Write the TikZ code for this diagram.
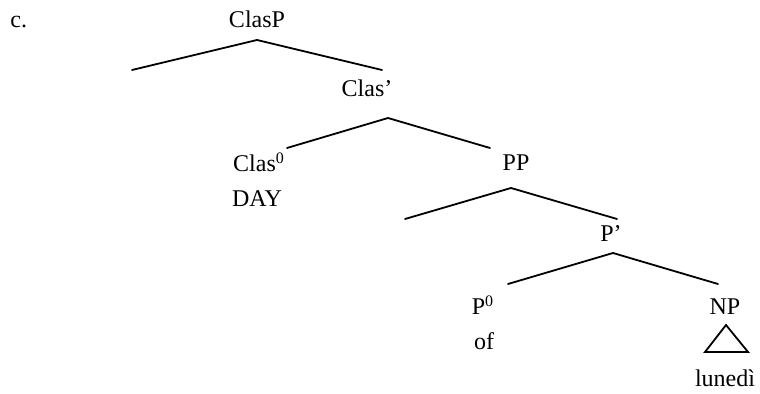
\documentclass[tikz,border=0pt]{standalone}
\usepackage{fontspec}
\setmainfont{Liberation Serif}
\usepackage{tikz}
\usetikzlibrary{positioning}
\tikzset{
  cat/.style={inner sep=0pt, anchor=base, font=\fontsize{12}{14}\selectfont},
  word/.style={cat},
  branch/.style={line width=0.9pt, line cap=round, line join=miter},
}

\begin{document}
\begin{tikzpicture}[x=0.5pt, y=-0.5pt]

  \useasboundingbox (0,0) rectangle (760,394);

  % example label
  \node[cat, anchor=base west] (ex) at (10,28) {c.};

  % category labels
  \node[cat] (clasp)  at (257,28)  {ClasP};
  \node[cat] (clasbar) at (367,97) {Clas'};
  \node[cat] (clas0)  at (259,172) {Clas\textsuperscript{0}};
  \node[cat] (pp)     at (516,171) {PP};
  \node[cat] (pbar)   at (611,242) {P'};
  \node[cat] (p0)     at (483,315) {P\textsuperscript{0}};
  \node[cat] (np)     at (725,315) {NP};

  % terminals
  \node[word] (day)    at (257,207) {DAY};
  \node[word] (of)     at (484,350) {of};
  \node[word] (lunedi) at (725,387) {lunedì};

  % branch points
  \coordinate (clasp-top)   at (257,40);
  \coordinate (clasp-l)     at (132,70);
  \coordinate (clasp-r)     at (382,70);
  \coordinate (clasbar-top) at (388,118);
  \coordinate (clasbar-l)   at (287,148);
  \coordinate (clasbar-r)   at (490,148);
  \coordinate (pp-top)      at (511,188);
  \coordinate (pp-l)        at (405,219);
  \coordinate (pp-r)        at (617,219);
  \coordinate (pbar-top)    at (613,253);
  \coordinate (pbar-l)      at (508,284);
  \coordinate (pbar-r)      at (718,284);

  \draw[branch] (clasp-l) -- (clasp-top) -- (clasp-r);
  \draw[branch] (clasbar-l) -- (clasbar-top) -- (clasbar-r);
  \draw[branch] (pp-l) -- (pp-top) -- (pp-r);
  \draw[branch] (pbar-l) -- (pbar-top) -- (pbar-r);

  % roof over NP
  \coordinate (roof-top) at (726,325);
  \coordinate (roof-l)   at (705,352);
  \coordinate (roof-r)   at (748,352);
  \draw[branch] (roof-top) -- (roof-l) -- (roof-r) -- cycle;

\end{tikzpicture}
\end{document}
